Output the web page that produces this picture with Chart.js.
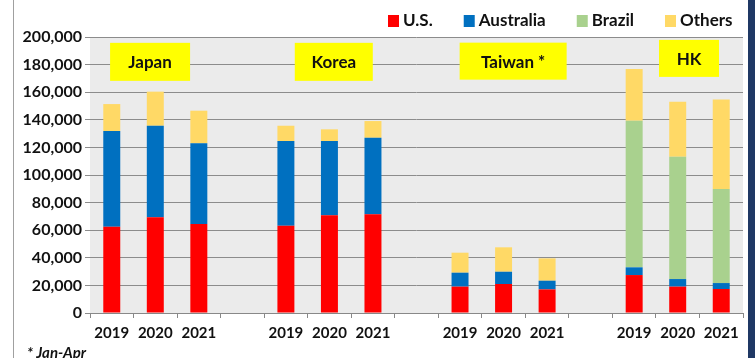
<!DOCTYPE html>
<html>
<head>
<meta charset="utf-8">
<script src="https://cdn.jsdelivr.net/npm/chart.js@4.4.0/dist/chart.umd.min.js"></script>
<style>
  html, body { margin: 0; padding: 0; background: #fff; }
  #wrap { width: 755px; height: 358px; position: relative; }
</style>
</head>
<body>
<div id="wrap"><canvas id="myChart" width="755" height="358"></canvas></div>
<script>
// years per market, blank slot between groups
var years = ['2019', '2020', '2021', '', '2019', '2020', '2021', '', '2019', '2020', '2021', '', '2019', '2020', '2021'];
var usValues = [62500, 69300, 64500, null, 63300, 70800, 71500, null, 19100, 21000, 17100, null, 27500, 19100, 17400];
var australiaValues = [69400, 66400, 58500, null, 61300, 53800, 55500, null, 10100, 8900, 6300, null, 5600, 5500, 4300];
var brazilValues = [0, 0, 0, null, 0, 0, 0, null, 0, 0, 0, null, 106200, 88700, 68200];
var othersValues = [19500, 24700, 23600, null, 11100, 8500, 12100, null, 14500, 17700, 16200, null, 37500, 39800, 64900];
var markets = ['Japan', 'Korea', 'Taiwan *', 'HK'];
var yTicks = [0, 20000, 40000, 60000, 80000, 100000, 120000, 140000, 160000, 180000, 200000];

var FONT = 'Lato, "Open Sans", sans-serif';

// where the yellow market boxes go (category index, y value) and their size
var marketBoxes = [
    { x: 0.88, y: 182000, w: 80, h: 38 },
    { x: 5.1, y: 182000, w: 78, h: 38 },
    { x: 9.22, y: 182500, w: 107, h: 37 },
    { x: 13.26, y: 184500, w: 60, h: 37 }
];

const decorPlugin = {
    id: 'decor',
    beforeDraw(chart) {
        const ctx = chart.ctx;
        const a = chart.chartArea;
        ctx.save();
        ctx.fillStyle = '#ebebeb';
        ctx.fillRect(a.left, a.top, a.right - a.left, a.bottom - a.top);
        ctx.restore();
    },
    afterDatasetsDraw(chart) {
        const ctx = chart.ctx;
        const xs = chart.scales.x;
        const ys = chart.scales.y;
        ctx.save();
        marketBoxes.forEach(function (b, i) {
            const cx = xs.getPixelForValue(b.x);
            const cy = ys.getPixelForValue(b.y);
            ctx.fillStyle = '#ffff00';
            ctx.fillRect(cx - b.w / 2, cy - b.h / 2, b.w, b.h);
            ctx.fillStyle = '#111';
            ctx.font = 'bold 17px ' + FONT;
            ctx.textAlign = 'center';
            ctx.textBaseline = 'middle';
            ctx.fillText(markets[i], cx, cy + 1);
        });
        ctx.restore();
    },
    afterDraw(chart) {
        const ctx = chart.ctx;
        ctx.save();
        // legend, laid out by hand so the item gaps match
        ctx.font = 'bold 17px ' + FONT;
        ctx.textBaseline = 'middle';
        ctx.textAlign = 'left';
        let lx = 388;
        chart.data.datasets.forEach(function (ds) {
            ctx.fillStyle = ds.backgroundColor;
            ctx.fillRect(lx, 15, 11, 12);
            ctx.fillStyle = '#111';
            ctx.fillText(ds.label, lx + 15, 21);
            lx += 15 + ctx.measureText(ds.label).width + 31;
        });
        // footnote
        ctx.font = 'italic bold 15px ' + FONT;
        ctx.fillText('* Jan-Apr', 27, 353);
        // frame edges
        ctx.fillStyle = '#a0a0a0';
        ctx.fillRect(13, 0, 1, 358);
        ctx.fillStyle = '#1f3864';
        ctx.fillRect(748, 0, 7, 358);
        ctx.restore();
    }
};

function setChart() {
    const ctx = document.getElementById('myChart');

    new Chart(ctx, {
        type: 'bar',
        data: {
            labels: years,
            datasets: [
                { label: 'U.S.', data: usValues, backgroundColor: '#ff0000' },
                { label: 'Australia', data: australiaValues, backgroundColor: '#0070c0' },
                { label: 'Brazil', data: brazilValues, backgroundColor: '#a9d18e' },
                { label: 'Others', data: othersValues, backgroundColor: '#ffd966' }
            ]
        },
        options: {
            responsive: false,
            animation: false,
            layout: { padding: { left: 13, right: 12, top: 37, bottom: 0 } },
            datasets: {
                bar: { categoryPercentage: 1, barPercentage: 0.39, borderWidth: 0 }
            },
            plugins: {
                legend: { display: false },
                tooltip: { enabled: false }
            },
            scales: {
                x: {
                    stacked: true,
                    grid: {
                        offset: true,
                        drawOnChartArea: false,
                        drawTicks: true,
                        tickLength: 5,
                        color: '#888'
                    },
                    border: { color: '#888', width: 1 },
                    ticks: {
                        color: '#111',
                        font: { family: FONT, size: 15, weight: 'bold' },
                        maxRotation: 0,
                        autoSkip: false,
                        padding: 6
                    },
                    afterFit: function (s) { s.height = 45; }
                },
                y: {
                    stacked: true,
                    min: 0,
                    max: 200000,
                    afterBuildTicks: function (s) {
                        s.ticks = yTicks.map(function (v) { return { value: v }; });
                    },
                    grid: { color: '#8c8c8c', lineWidth: 1, tickLength: 5 },
                    border: { display: false },
                    ticks: {
                        color: '#111',
                        font: { family: FONT, size: 16, weight: 'bold' },
                        padding: 3,
                        callback: function (v) { return v.toLocaleString('en-US'); }
                    },
                    afterFit: function (s) { s.width = 77; }
                }
            }
        },
        plugins: [decorPlugin]
    });
}

setChart();
</script>
</body>
</html>
